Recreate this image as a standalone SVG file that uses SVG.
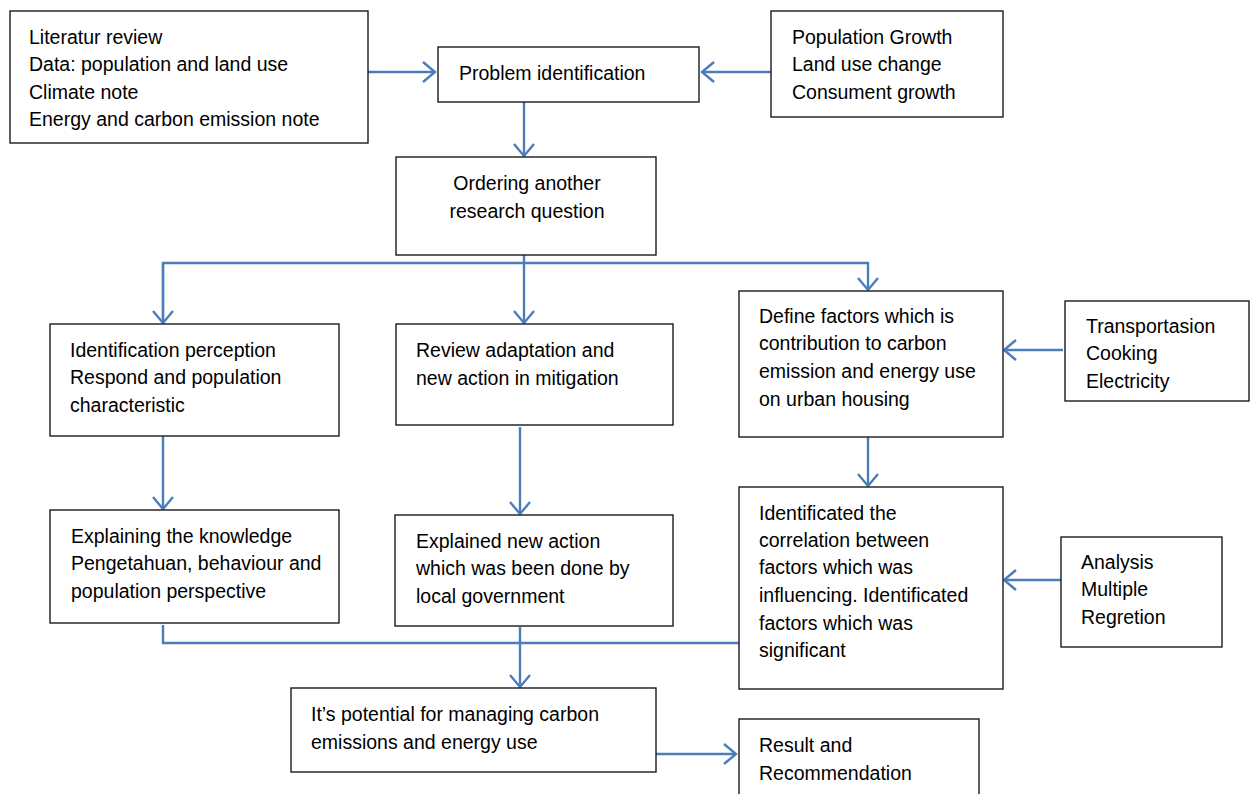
<svg xmlns="http://www.w3.org/2000/svg" width="1250" height="794" viewBox="0 0 1250 794">
<defs>
<style>
.box{fill:#fff;stroke:#1a1a1a;stroke-width:1.4}
.t{font-family:"Liberation Sans",Arial,sans-serif;font-size:19.5px;fill:#000}
.c{fill:none;stroke:#4a7ebb;stroke-width:2.4}
</style>
<marker id="ah" markerUnits="userSpaceOnUse" markerWidth="30" markerHeight="30" viewBox="-15 -15 30 30" refX="0" refY="0" orient="auto">
<path d="M-12,-10 L0,0 L-12,10" fill="none" stroke="#4a7ebb" stroke-width="2.4"/>
</marker>
</defs>
<rect width="1250" height="794" fill="#fff"/>
<g id="connectors">
<path class="c" d="M368,72 H435" marker-end="url(#ah)"/>
<path class="c" d="M771,72 H702" marker-end="url(#ah)"/>
<path class="c" d="M524,102 V156" marker-end="url(#ah)"/>
<path class="c" d="M524,255 V323" marker-end="url(#ah)"/>
<path class="c" d="M163,323 V263 H868 V290" marker-end="url(#ah)"/>
<path class="c" d="M163,264 V323" marker-end="url(#ah)"/>
<path class="c" d="M163,427 V509" marker-end="url(#ah)"/>
<path class="c" d="M520,427 V514" marker-end="url(#ah)"/>
<path class="c" d="M868,437 V486" marker-end="url(#ah)"/>
<path class="c" d="M1063,350 H1004" marker-end="url(#ah)"/>
<path class="c" d="M1061,580 H1004" marker-end="url(#ah)"/>
<path class="c" d="M163,625 V643 H739"/>
<path class="c" d="M520,627 V687" marker-end="url(#ah)"/>
<path class="c" d="M656,754 H736" marker-end="url(#ah)"/>
</g>
<g id="n1"><rect class="box" x="10" y="11" width="358" height="132"/>
<text class="t" x="29" y="44">Literatur review</text><text class="t" x="29" y="71">Data: population and land use</text><text class="t" x="29" y="99">Climate note</text><text class="t" x="29" y="126">Energy and carbon emission note</text></g>
<g id="n2"><rect class="box" x="438" y="47" width="261" height="55"/>
<text class="t" x="459" y="80">Problem identification</text></g>
<g id="n3"><rect class="box" x="771" y="11" width="232" height="106"/>
<text class="t" x="792" y="44">Population Growth</text><text class="t" x="792" y="71">Land use change</text><text class="t" x="792" y="99">Consument growth</text></g>
<g id="n4"><rect class="box" x="396" y="157" width="260" height="98"/>
<text class="t" x="527" y="190" text-anchor="middle">Ordering another</text><text class="t" x="527" y="218" text-anchor="middle">research question</text></g>
<g id="n5"><rect class="box" x="50" y="324" width="289" height="112"/>
<text class="t" x="70" y="357">Identification perception</text><text class="t" x="70" y="384">Respond and population</text><text class="t" x="70" y="412">characteristic</text></g>
<g id="n6"><rect class="box" x="396" y="324" width="277" height="101"/>
<text class="t" x="416" y="357">Review adaptation and</text><text class="t" x="416" y="385">new action in mitigation</text></g>
<g id="n7"><rect class="box" x="739" y="291" width="264" height="146"/>
<text class="t" x="759" y="323">Define factors which is</text><text class="t" x="759" y="350">contribution to carbon</text><text class="t" x="759" y="378">emission and energy use</text><text class="t" x="759" y="406">on urban housing</text></g>
<g id="n8"><rect class="box" x="1065" y="301" width="184" height="100"/>
<text class="t" x="1086" y="333">Transportasion</text><text class="t" x="1086" y="360">Cooking</text><text class="t" x="1086" y="388">Electricity</text></g>
<g id="n9"><rect class="box" x="50" y="510" width="289" height="113"/>
<text class="t" x="71" y="543">Explaining the knowledge</text><text class="t" x="71" y="570">Pengetahuan, behaviour and</text><text class="t" x="71" y="598">population perspective</text></g>
<g id="n10"><rect class="box" x="395" y="515" width="278" height="111"/>
<text class="t" x="416" y="548">Explained new action</text><text class="t" x="416" y="575">which was been done by</text><text class="t" x="416" y="603">local government</text></g>
<g id="n11"><rect class="box" x="739" y="487" width="264" height="202"/>
<text class="t" x="759" y="520">Identificated the</text><text class="t" x="759" y="547">correlation between</text><text class="t" x="759" y="574">factors which was</text><text class="t" x="759" y="602">influencing. Identificated</text><text class="t" x="759" y="630">factors which was</text><text class="t" x="759" y="657">significant</text></g>
<g id="n12"><rect class="box" x="1061" y="537" width="161" height="110"/>
<text class="t" x="1081" y="569">Analysis</text><text class="t" x="1081" y="596">Multiple</text><text class="t" x="1081" y="624">Regretion</text></g>
<g id="n13"><rect class="box" x="291" y="688" width="365" height="84"/>
<text class="t" x="311" y="721">It’s potential for managing carbon</text><text class="t" x="311" y="749">emissions and energy use</text></g>
<g id="n14"><rect class="box" x="739" y="719" width="240" height="90"/>
<text class="t" x="759" y="752">Result and</text><text class="t" x="759" y="780">Recommendation</text></g>
</svg>
